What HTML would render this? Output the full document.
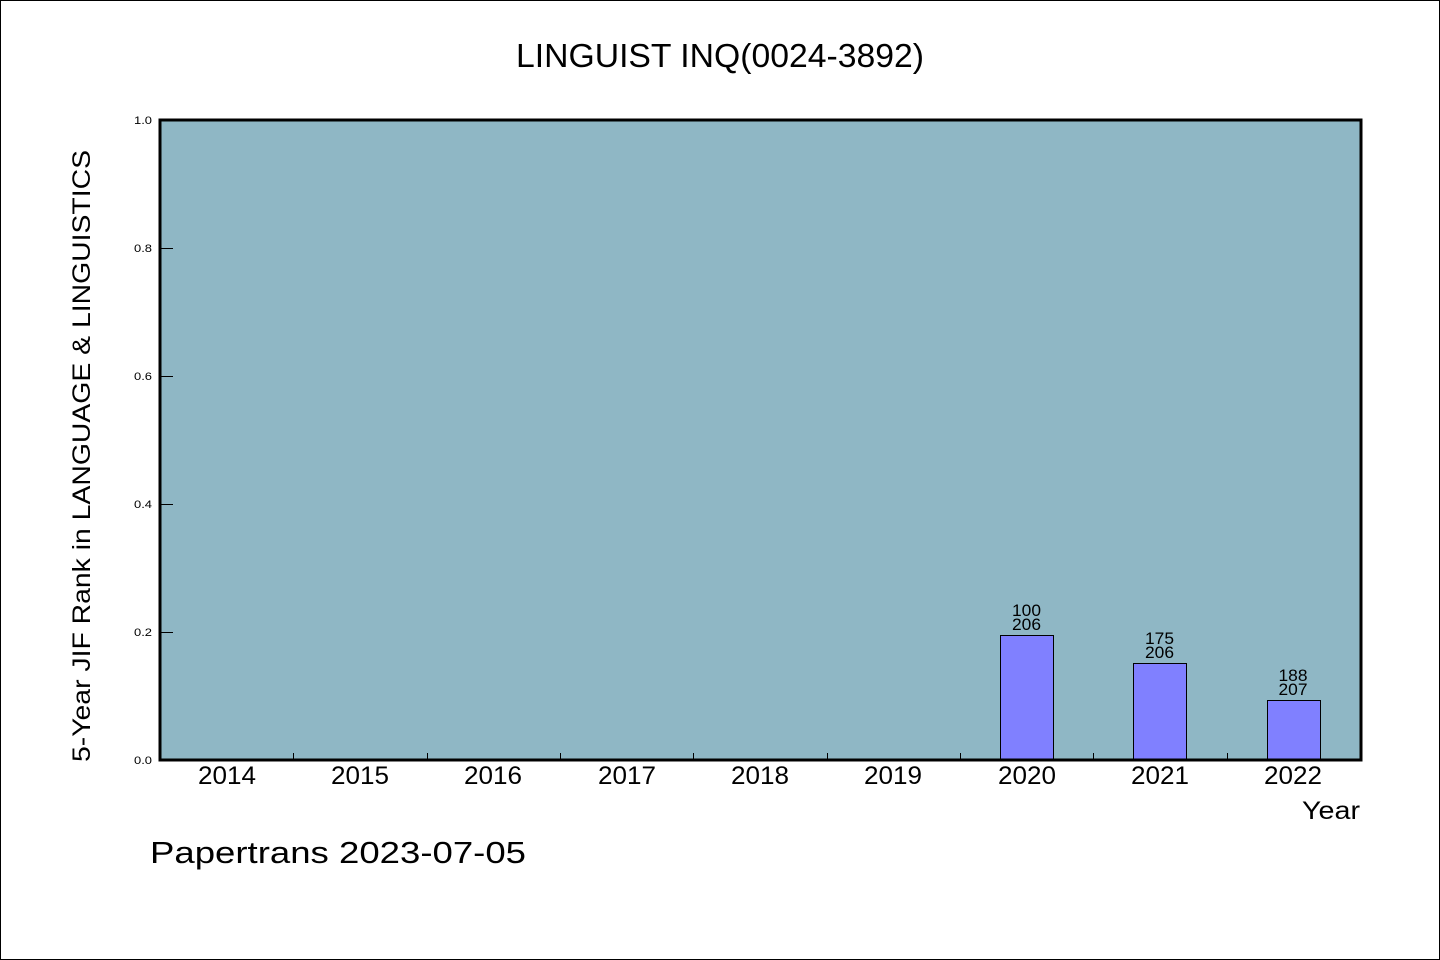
<!DOCTYPE html>
<html><head><meta charset="utf-8"><style>
html,body{margin:0;padding:0;background:#fff}
svg{display:block}
text{font-family:"Liberation Sans",sans-serif;fill:#000}
</style></head><body>
<svg width="1440" height="960" viewBox="0 0 1440 960" xmlns="http://www.w3.org/2000/svg">
<rect x="0.5" y="0.5" width="1439" height="959" fill="#fff" stroke="#000" stroke-width="1"/>
<text x="516" y="67" font-size="33" textLength="408" lengthAdjust="spacingAndGlyphs">LINGUIST INQ(0024-3892)</text>
<rect x="160" y="120" width="1201" height="640" fill="#8fb7c5"/>
<g stroke="#000" stroke-width="1">
<line x1="160" y1="248.5" x2="173" y2="248.5"/>
<line x1="160" y1="376.5" x2="173" y2="376.5"/>
<line x1="160" y1="504.5" x2="173" y2="504.5"/>
<line x1="160" y1="632.5" x2="173" y2="632.5"/>
<line x1="293.5" y1="760" x2="293.5" y2="753"/>
<line x1="427.5" y1="760" x2="427.5" y2="753"/>
<line x1="560.5" y1="760" x2="560.5" y2="753"/>
<line x1="693.5" y1="760" x2="693.5" y2="753"/>
<line x1="827.5" y1="760" x2="827.5" y2="753"/>
<line x1="960.5" y1="760" x2="960.5" y2="753"/>
<line x1="1093.5" y1="760" x2="1093.5" y2="753"/>
<line x1="1227.5" y1="760" x2="1227.5" y2="753"/>
</g>
<g font-size="11" text-anchor="end">
<text x="152" y="124" textLength="18" lengthAdjust="spacingAndGlyphs">1.0</text>
<text x="152" y="252" textLength="18" lengthAdjust="spacingAndGlyphs">0.8</text>
<text x="152" y="380" textLength="18" lengthAdjust="spacingAndGlyphs">0.6</text>
<text x="152" y="508" textLength="18" lengthAdjust="spacingAndGlyphs">0.4</text>
<text x="152" y="636" textLength="18" lengthAdjust="spacingAndGlyphs">0.2</text>
<text x="152" y="764" textLength="18" lengthAdjust="spacingAndGlyphs">0.0</text>
</g>
<g fill="#8080ff" stroke="#000" stroke-width="1">
<rect x="1000.5" y="635.5" width="53" height="125"/>
<rect x="1133.5" y="663.5" width="53" height="97"/>
<rect x="1267.5" y="700.5" width="53" height="60"/>
</g>
<g font-size="17" text-anchor="middle">
<text x="1026.5" y="616" textLength="29" lengthAdjust="spacingAndGlyphs">100</text><text x="1026.5" y="630" textLength="29" lengthAdjust="spacingAndGlyphs">206</text>
<text x="1159.5" y="644" textLength="29" lengthAdjust="spacingAndGlyphs">175</text><text x="1159.5" y="658" textLength="29" lengthAdjust="spacingAndGlyphs">206</text>
<text x="1293" y="681" textLength="29" lengthAdjust="spacingAndGlyphs">188</text><text x="1293" y="695" textLength="29" lengthAdjust="spacingAndGlyphs">207</text>
</g>
<rect x="160" y="120" width="1201" height="640" fill="none" stroke="#000" stroke-width="3"/>
<g font-size="25" text-anchor="middle">
<text x="227" y="784" textLength="58" lengthAdjust="spacingAndGlyphs">2014</text>
<text x="360" y="784" textLength="58" lengthAdjust="spacingAndGlyphs">2015</text>
<text x="493" y="784" textLength="58" lengthAdjust="spacingAndGlyphs">2016</text>
<text x="627" y="784" textLength="58" lengthAdjust="spacingAndGlyphs">2017</text>
<text x="760" y="784" textLength="58" lengthAdjust="spacingAndGlyphs">2018</text>
<text x="893" y="784" textLength="58" lengthAdjust="spacingAndGlyphs">2019</text>
<text x="1027" y="784" textLength="58" lengthAdjust="spacingAndGlyphs">2020</text>
<text x="1160" y="784" textLength="58" lengthAdjust="spacingAndGlyphs">2021</text>
<text x="1293" y="784" textLength="58" lengthAdjust="spacingAndGlyphs">2022</text>
</g>
<text x="1302" y="819" font-size="25" textLength="58" lengthAdjust="spacingAndGlyphs">Year</text>
<text x="150" y="863" font-size="31" textLength="376" lengthAdjust="spacingAndGlyphs">Papertrans 2023-07-05</text>
<text transform="translate(90,762) rotate(-90)" x="0" y="0" font-size="25" textLength="612" lengthAdjust="spacingAndGlyphs">5-Year JIF Rank in LANGUAGE &amp; LINGUISTICS</text>
</svg>
</body></html>
